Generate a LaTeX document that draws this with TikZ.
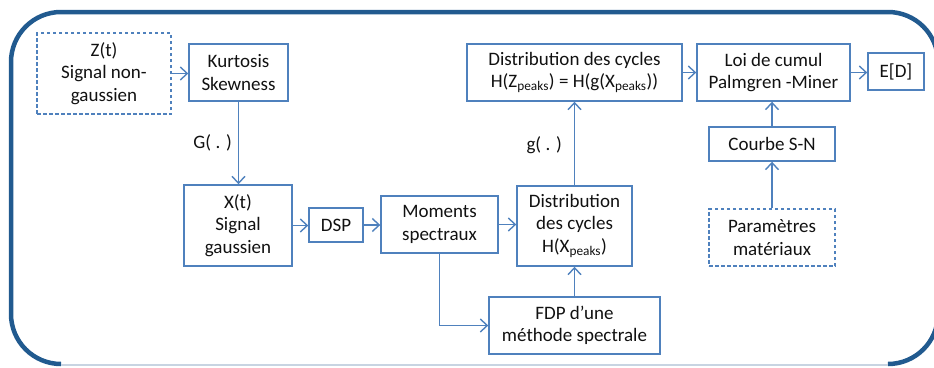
\documentclass[tikz,border=0pt]{standalone}
\usepackage{fontspec}
\setmainfont{Carlito}
\usetikzlibrary{arrows.meta}
\definecolor{boxblue}{HTML}{4F81BD}
\definecolor{framblue}{HTML}{215A8F}
\definecolor{framlight}{HTML}{C8D4E2}
\definecolor{txt}{HTML}{111111}
\tikzset{
  box/.style={draw=boxblue, line width=1.4pt, align=center, inner sep=0pt, text=txt,
    font=\fontsize{19}{22.5}\selectfont},
  dbox/.style={box, dash pattern=on 3.5pt off 2.5pt},
  arr/.style={draw=boxblue, line width=1.4pt, -{Straight Barb[length=7pt,width=13pt,line width=1.4pt]}},
  lab/.style={text=txt, font=\fontsize{19}{22.5}\selectfont, inner sep=0pt},
  framestyle/.style={draw=framblue, line width=4.5pt},
}
\newcommand{\pk}{\textsubscript{peaks}}
\begin{document}
\begin{tikzpicture}[x=1pt,y=-1pt]
\useasboundingbox (0,0) rectangle (934,367);
% frame
\draw[framestyle, rounded corners=50pt] (61,364) -- (11,364) -- (11,12) -- (938,12) -- (938,364) -- (888,364);
\draw[framlight, line width=1.5pt] (61,365) -- (888,365);
% nodes
\node[dbox, minimum width=134pt, minimum height=81pt] (z) at (104,73.5) {Z(t)\\Signal non-\\gaussien};
\node[box, minimum width=99pt, minimum height=57pt] (k) at (238.5,72.5) {Kurtosis\\Skewness};
\node[box, minimum width=108pt, minimum height=81pt] (x) at (238,225.5) {X(t)\\Signal\\gaussien};
\node[box, minimum width=54pt, minimum height=34pt] (dsp) at (336,225) {DSP};
\node[box, minimum width=117pt, minimum height=57pt] (mom) at (439.5,224.5) {Moments\\spectraux};
\node[box, minimum width=115pt, minimum height=80pt] (dx) at (574.5,226) {Distribution\\des cycles\\H(X\pk)};
\node[box, minimum width=171pt, minimum height=57pt] (fdp) at (574.5,325.5) {FDP d’une\\méthode spectrale};
\node[box, minimum width=215pt, minimum height=57pt] (dz) at (574.5,72.5) {Distribution des cycles\\H(Z\pk) = H(g(X\pk))};
\node[box, minimum width=153pt, minimum height=57pt] (loi) at (773.5,72.5) {Loi de cumul\\Palmgren -Miner};
\node[box, minimum width=56pt, minimum height=37pt] (ed) at (896,71.5) {E[D]};
\node[box, minimum width=126pt, minimum height=34pt] (sn) at (772,144) {Courbe S-N};
\node[dbox, minimum width=126pt, minimum height=57pt] (par) at (772,237.5) {Paramètres\\matériaux};
% connectors
\draw[arr] (z.east) -- (z.east -| k.west);
\draw[arr] (k.south) -- node[lab, left=6pt] (gl) {G( . )} (k.south |- x.north);
\draw[arr] (x.east) -- (x.east -| dsp.west);
\draw[arr] (dsp.east) -- (dsp.east -| mom.west);
\draw[arr] (mom.east) -- (mom.east -| dx.west);
\draw[arr] (mom.south) |- (fdp.west);
\draw[arr] (fdp.north) -- (dx.south);
\draw[arr] (dx.north) -- node[lab, left=12pt, pos=0.48] (gs) {g( . )} (dz.south);
\draw[arr] (dz.east) -- (loi.west);
\draw[arr] (loi.east) -- (loi.east -| ed.west);
\draw[arr] (sn.north) -- (sn.north |- loi.south);
\draw[arr] (par.north) -- (sn.south);
\end{tikzpicture}
\end{document}
